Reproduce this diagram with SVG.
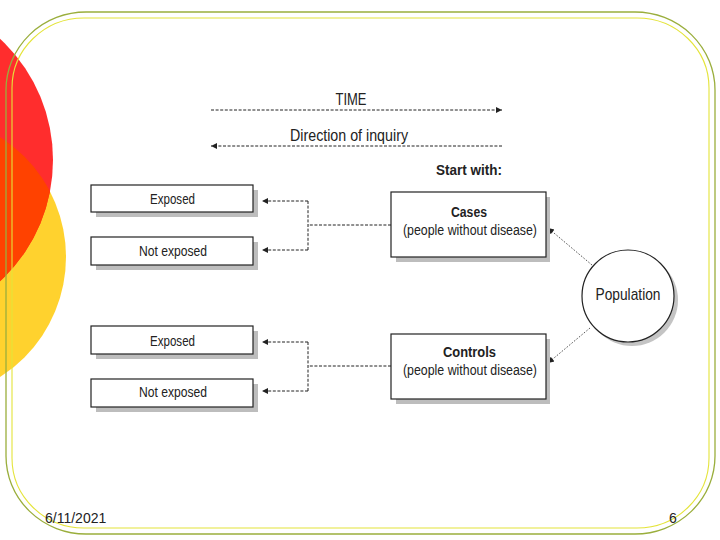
<svg xmlns="http://www.w3.org/2000/svg" width="720" height="540" viewBox="0 0 720 540">
<defs>
<style>
.t{font-family:"Liberation Sans",Arial,sans-serif;fill:#222;}
.box{fill:#fff;stroke:#222;stroke-width:1.2;}
.shadow{fill:#bdbdbd;}
.dash{fill:none;stroke:#222;stroke-width:1;stroke-dasharray:3 1.6;}
.dot{fill:none;stroke:#444;stroke-width:0.9;stroke-dasharray:1.6 1.6;}
</style>
<marker id="ah" viewBox="0 0 10 10" refX="10" refY="5" markerWidth="8" markerHeight="6" markerUnits="userSpaceOnUse" orient="auto">
<path d="M0,0 L10,5 L0,10 Z" fill="#222"/>
</marker>
<clipPath id="redclip"><circle cx="-112" cy="160" r="165"/></clipPath>
</defs>
<rect width="720" height="540" fill="#fff"/>
<g id="decor">
<circle cx="-76" cy="257" r="142" fill="#ffd22e"/>
<circle cx="-112" cy="160" r="165" fill="#ff2d2d"/>
<circle cx="-76" cy="257" r="142" fill="#ff4200" clip-path="url(#redclip)"/>
<rect x="6" y="12" width="709" height="522" rx="80" ry="78" fill="none" stroke="#9aae3c" stroke-width="1.3"/>
<rect x="12" y="18" width="697" height="510" rx="72" ry="70" fill="none" stroke="#e4e43a" stroke-width="1.1"/>
</g>
<g id="connectors">
<line class="dash" x1="211" y1="110" x2="502" y2="110" marker-end="url(#ah)"/>
<line class="dash" x1="502" y1="146" x2="211" y2="146" marker-end="url(#ah)"/>
<polyline class="dash" points="391,225 308,225"/>
<polyline class="dash" points="308,201 308,250"/>
<line class="dash" x1="308" y1="201" x2="262" y2="201" marker-end="url(#ah)"/>
<line class="dash" x1="308" y1="250" x2="262" y2="250" marker-end="url(#ah)"/>
<polyline class="dash" points="391,366 308,366"/>
<polyline class="dash" points="308,342 308,391"/>
<line class="dash" x1="308" y1="342" x2="262" y2="342" marker-end="url(#ah)"/>
<line class="dash" x1="308" y1="391" x2="262" y2="391" marker-end="url(#ah)"/>
<line class="dot" x1="592" y1="265" x2="548" y2="228" marker-end="url(#ah)"/>
<line class="dot" x1="590" y1="328" x2="548" y2="363" marker-end="url(#ah)"/>
</g>
<g id="labels">
<text class="t" x="351" y="105" font-size="17" text-anchor="middle" textLength="31" lengthAdjust="spacingAndGlyphs">TIME</text>
<text class="t" x="349" y="141" font-size="16.5" text-anchor="middle" textLength="118" lengthAdjust="spacingAndGlyphs">Direction of inquiry</text>
<text class="t" x="469" y="175" font-size="14" font-weight="bold" text-anchor="middle" textLength="66" lengthAdjust="spacingAndGlyphs">Start with:</text>
</g>
<g id="exposed1">
<rect class="shadow" x="96" y="190" width="162" height="27"/>
<rect class="box" x="91" y="185" width="162" height="27"/>
<text class="t" x="172.5" y="204" font-size="15" text-anchor="middle" textLength="45" lengthAdjust="spacingAndGlyphs">Exposed</text>
</g>
<g id="notexposed1">
<rect class="shadow" x="96" y="242" width="162" height="28"/>
<rect class="box" x="91" y="237" width="162" height="28"/>
<text class="t" x="173" y="256" font-size="15" text-anchor="middle" textLength="68" lengthAdjust="spacingAndGlyphs">Not exposed</text>
</g>
<g id="exposed2">
<rect class="shadow" x="96" y="331" width="162" height="28"/>
<rect class="box" x="91" y="326" width="162" height="28"/>
<text class="t" x="172.5" y="346" font-size="15" text-anchor="middle" textLength="45" lengthAdjust="spacingAndGlyphs">Exposed</text>
</g>
<g id="notexposed2">
<rect class="shadow" x="96" y="384" width="162" height="28"/>
<rect class="box" x="91" y="379" width="162" height="28"/>
<text class="t" x="173" y="397" font-size="15" text-anchor="middle" textLength="68" lengthAdjust="spacingAndGlyphs">Not exposed</text>
</g>
<g id="cases">
<rect class="shadow" x="396" y="197" width="154" height="65"/>
<rect class="box" x="391" y="192" width="155" height="65"/>
<text class="t" x="469" y="217" font-size="14" font-weight="bold" text-anchor="middle" textLength="36" lengthAdjust="spacingAndGlyphs">Cases</text>
<text class="t" x="470" y="235" font-size="15.5" text-anchor="middle" textLength="134" lengthAdjust="spacingAndGlyphs">(people without disease)</text>
</g>
<g id="controls">
<rect class="shadow" x="396" y="339" width="154" height="65"/>
<rect class="box" x="391" y="334" width="155" height="65"/>
<text class="t" x="469.5" y="357" font-size="14" font-weight="bold" text-anchor="middle" textLength="53" lengthAdjust="spacingAndGlyphs">Controls</text>
<text class="t" x="470" y="375" font-size="15.5" text-anchor="middle" textLength="134" lengthAdjust="spacingAndGlyphs">(people without disease)</text>
</g>
<g id="population">
<circle cx="632" cy="300" r="46" fill="#c4c4c4"/>
<circle cx="628" cy="296" r="46" fill="#fff" stroke="#222" stroke-width="1.2"/>
<text class="t" x="628" y="300" font-size="17" text-anchor="middle" textLength="65" lengthAdjust="spacingAndGlyphs">Population</text>
</g>
<g id="footer">
<text class="t" x="45" y="523" font-size="14" fill="#000">6/11/2021</text>
<text class="t" x="669" y="523" font-size="14" fill="#000">6</text>
</g>
</svg>
